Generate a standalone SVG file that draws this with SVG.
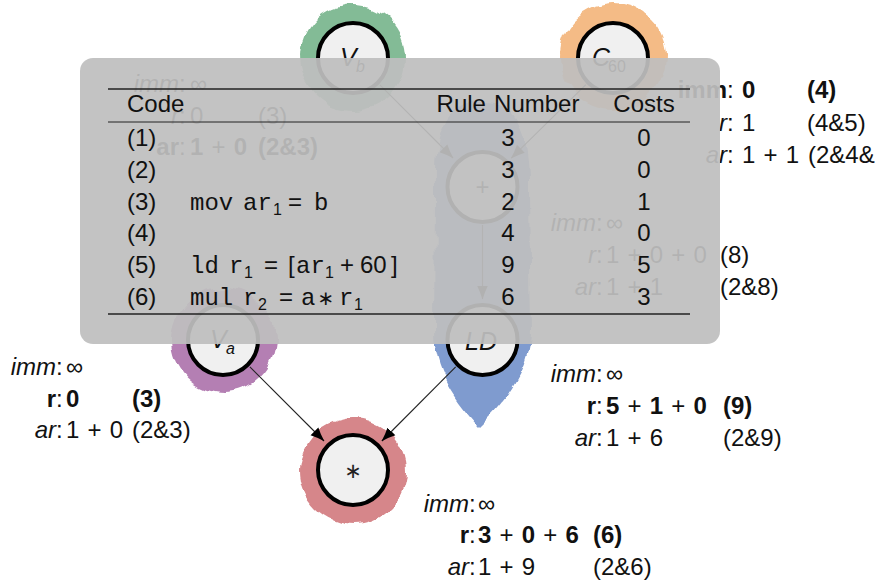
<svg xmlns="http://www.w3.org/2000/svg" width="882" height="582" viewBox="0 0 882 582">
  <style>
    .t { font-family: "Liberation Sans", Arial, sans-serif; font-size: 24px; fill: #111; word-spacing: 1.5px; }
    .it { font-style: italic; }
    .bd { font-weight: bold; }
    .tt { font-family: "Liberation Mono", "Courier New", monospace; font-size: 24px; fill: #111; }
    .sub { font-family: "Liberation Sans", Arial, sans-serif; font-size: 16px; fill: #111; }
    .mid { text-anchor: middle; }
    .end { text-anchor: end; }
    .node circle { fill: #f0f0f0; stroke: #000; stroke-width: 4; }
    .edge { stroke: #222; stroke-width: 1.1; fill: none; marker-end: url(#tip); }
    .rule { stroke: #222; }
  </style>
  <defs>
    <filter id="rough" x="-25%" y="-25%" width="150%" height="150%">
      <feTurbulence type="fractalNoise" baseFrequency="0.06" numOctaves="1" seed="7" result="n"/>
      <feDisplacementMap in="SourceGraphic" in2="n" scale="13" xChannelSelector="R" yChannelSelector="G"/>
    </filter>
    <marker id="tip" viewBox="0 0 14 12" markerWidth="14" markerHeight="12" refX="13.5" refY="6" orient="auto" markerUnits="userSpaceOnUse">
      <path d="M0,0.5 Q6,3.6 14,6 Q6,8.4 0,11.5 Z" fill="#000"/>
    </marker>
  </defs>

  <rect width="882" height="582" fill="#fff"/>

  <!-- rule tiles covering the tree -->
  <g id="tiles" filter="url(#rough)">
    <circle cx="353" cy="57" r="53" fill="#83bb96"/>
    <circle cx="613" cy="57" r="53" fill="#f4bb86"/>
    <path d="M482,102 C516,102 530,128 529,190 L531,330 C531,370 508,400 480,427 C455,400 434,372 434,330 L435,190 C433,128 448,102 482,102 Z" fill="#7f9bcf"/>
    <circle cx="223" cy="340" r="52" fill="#b47fb3"/>
    <circle cx="353" cy="471" r="53" fill="#d6868a"/>
  </g>

  <!-- connectors -->
  <g id="edges">
    <line class="edge" x1="379.9" y1="84.9" x2="453" y2="158"/>
    <line class="edge" x1="585.9" y1="84.7" x2="511.2" y2="158.2"/>
    <line class="edge" x1="482.5" y1="225" x2="482.5" y2="299"/>
    <line class="edge" x1="249.9" y1="366.9" x2="324" y2="441"/>
    <line class="edge" x1="455.7" y1="366.9" x2="381.9" y2="441"/>
  </g>

  <!-- nodes -->
  <g id="node-vb" class="node">
    <circle cx="353" cy="58" r="35"/>
    <text class="t it" x="340" y="66" style="font-size:25px">V</text>
    <text class="sub it" x="356" y="72">b</text>
  </g>
  <g id="node-c60" class="node">
    <circle cx="613" cy="58" r="35"/>
    <text class="t it" x="592" y="66" style="font-size:25px">C</text>
    <text class="sub" x="608" y="72">60</text>
  </g>
  <g id="node-plus" class="node">
    <circle cx="482.5" cy="187" r="35"/>
    <text class="t mid" x="482.5" y="195" style="font-weight:300">+</text>
  </g>
  <g id="node-ld" class="node">
    <circle cx="482.5" cy="340" r="35"/>
    <text class="t it mid" x="481" y="350" style="font-size:25px">LD</text>
  </g>
  <g id="node-va" class="node">
    <circle cx="223" cy="340" r="35"/>
    <text class="t it" x="210" y="348" style="font-size:25px">V</text>
    <text class="sub it" x="226" y="354">a</text>
  </g>
  <g id="node-mul" class="node">
    <circle cx="353" cy="470" r="35"/>
    <text class="mid" x="353" y="478" style="font-family:'DejaVu Sans',sans-serif;font-size:21px;fill:#222">∗</text>
  </g>

  <!-- cost annotations -->
  <g id="cost-vb">
    <text class="t it end" x="179" y="92">imm</text>
    <text class="t" x="179" y="92">:<tspan x="190">∞</tspan></text>
    <text class="t it end" x="179" y="124">r</text>
    <text class="t" x="179" y="124">:<tspan x="190">0</tspan><tspan x="258">(3)</tspan></text>
    <text class="t bd end" x="179" y="155">ar</text>
    <text class="t" x="179" y="155">:<tspan x="190" class="bd">1</tspan> + <tspan class="bd">0</tspan><tspan x="258" class="bd">(2&amp;3)</tspan></text>
  </g>
  <g id="cost-c60">
    <text class="t bd end" x="727" y="98">imm</text>
    <text class="t" x="727" y="98">:<tspan x="742" class="bd">0</tspan><tspan x="807" class="bd">(4)</tspan></text>
    <text class="t it end" x="727" y="131">r</text>
    <text class="t" x="727" y="131">:<tspan x="742">1</tspan><tspan x="807">(4&amp;5)</tspan></text>
    <text class="t it end" x="727" y="163">ar</text>
    <text class="t" x="727" y="163">:<tspan x="742">1 + 1</tspan><tspan x="808">(2&amp;4&amp;</tspan></text>
  </g>
  <g id="cost-plus">
    <text class="t it end" x="596" y="231">imm</text>
    <text class="t" x="596" y="231">:<tspan x="606">∞</tspan></text>
    <text class="t it end" x="596" y="263">r</text>
    <text class="t" x="596" y="263">:<tspan x="606">1 + 0 + 0</tspan><tspan x="720">(8)</tspan></text>
    <text class="t it end" x="596" y="295">ar</text>
    <text class="t" x="596" y="295">:<tspan x="606">1 + 1</tspan><tspan x="720">(2&amp;8)</tspan></text>
  </g>
  <g id="cost-va">
    <text class="t it end" x="56" y="375">imm</text>
    <text class="t" x="56" y="375">:<tspan x="66">∞</tspan></text>
    <text class="t bd end" x="56" y="407">r</text>
    <text class="t" x="56" y="407">:<tspan x="66" class="bd">0</tspan><tspan x="132" class="bd">(3)</tspan></text>
    <text class="t it end" x="56" y="438">ar</text>
    <text class="t" x="56" y="438">:<tspan x="66">1 + 0</tspan><tspan x="132">(2&amp;3)</tspan></text>
  </g>
  <g id="cost-ld">
    <text class="t it end" x="596" y="382">imm</text>
    <text class="t" x="596" y="382">:<tspan x="606">∞</tspan></text>
    <text class="t bd end" x="596" y="414">r</text>
    <text class="t" x="596" y="414">:<tspan x="606" class="bd">5</tspan> + <tspan class="bd">1</tspan> + <tspan class="bd">0</tspan><tspan x="723" class="bd">(9)</tspan></text>
    <text class="t it end" x="596" y="446">ar</text>
    <text class="t" x="596" y="446">:<tspan x="606">1 + 6</tspan><tspan x="723">(2&amp;9)</tspan></text>
  </g>
  <g id="cost-mul">
    <text class="t it end" x="469" y="512">imm</text>
    <text class="t" x="469" y="512">:<tspan x="478">∞</tspan></text>
    <text class="t bd end" x="469" y="543">r</text>
    <text class="t" x="469" y="543">:<tspan x="478" class="bd">3</tspan> + <tspan class="bd">0</tspan> + <tspan class="bd">6</tspan><tspan x="593" class="bd">(6)</tspan></text>
    <text class="t it end" x="469" y="575">ar</text>
    <text class="t" x="469" y="575">:<tspan x="478">1 + 9</tspan><tspan x="593">(2&amp;6)</tspan></text>
  </g>

  <!-- emitted code table on a translucent panel -->
  <g id="code-table">
    <rect x="80" y="58" width="640" height="286" rx="13" fill="#bebebe" fill-opacity="0.93"/>
    <line class="rule" x1="108" y1="89" x2="690" y2="89" stroke-width="1.6"/>
    <line class="rule" x1="108" y1="122" x2="690" y2="122" stroke-width="1"/>
    <line class="rule" x1="108" y1="314" x2="690" y2="314" stroke-width="1.6"/>

    <text class="t" x="127" y="112">Code</text>
    <text class="t mid" x="508" y="112">Rule Number</text>
    <text class="t mid" x="644" y="112">Costs</text>

    <text class="t" x="127" y="146">(1)</text>
    <text class="t" x="127" y="178">(2)</text>
    <text class="t" x="127" y="210">(3)</text>
    <text class="t" x="127" y="241">(4)</text>
    <text class="t" x="127" y="273">(5)</text>
    <text class="t" x="127" y="305">(6)</text>

    <!-- (3) mov ar1 = b -->
    <text class="tt" x="190" y="210">mov</text>
    <text class="tt" x="243" y="210">ar</text>
    <text class="sub" x="273" y="215">1</text>
    <text class="t mid" x="295" y="210">=</text>
    <text class="tt" x="314" y="210">b</text>

    <!-- (5) ld r1 = [ar1 + 60] -->
    <text class="tt" x="190" y="273">ld</text>
    <text class="tt" x="229" y="273">r</text>
    <text class="sub" x="244" y="278">1</text>
    <text class="t mid" x="271" y="273">=</text>
    <text class="t" x="288" y="273">[</text>
    <text class="tt" x="296" y="273">ar</text>
    <text class="sub" x="325" y="278">1</text>
    <text class="t mid" x="347" y="273">+</text>
    <text class="t" x="360" y="273">60</text>
    <text class="t" x="391" y="273">]</text>

    <!-- (6) mul r2 = a * r1 -->
    <text class="tt" x="190" y="305">mul</text>
    <text class="tt" x="243" y="305">r</text>
    <text class="sub" x="258" y="310">2</text>
    <text class="t mid" x="286" y="305">=</text>
    <text class="tt" x="301" y="305">a</text>
    <text class="t mid" x="326" y="305" style="font-family:'DejaVu Sans',sans-serif;font-size:20px">∗</text>
    <text class="tt" x="339" y="305">r</text>
    <text class="sub" x="354" y="310">1</text>

    <text class="t mid" x="508" y="146">3</text>
    <text class="t mid" x="508" y="178">3</text>
    <text class="t mid" x="508" y="210">2</text>
    <text class="t mid" x="508" y="241">4</text>
    <text class="t mid" x="508" y="273">9</text>
    <text class="t mid" x="508" y="305">6</text>

    <text class="t mid" x="644" y="146">0</text>
    <text class="t mid" x="644" y="178">0</text>
    <text class="t mid" x="644" y="210">1</text>
    <text class="t mid" x="644" y="241">0</text>
    <text class="t mid" x="644" y="273">5</text>
    <text class="t mid" x="644" y="305">3</text>
  </g>
</svg>
